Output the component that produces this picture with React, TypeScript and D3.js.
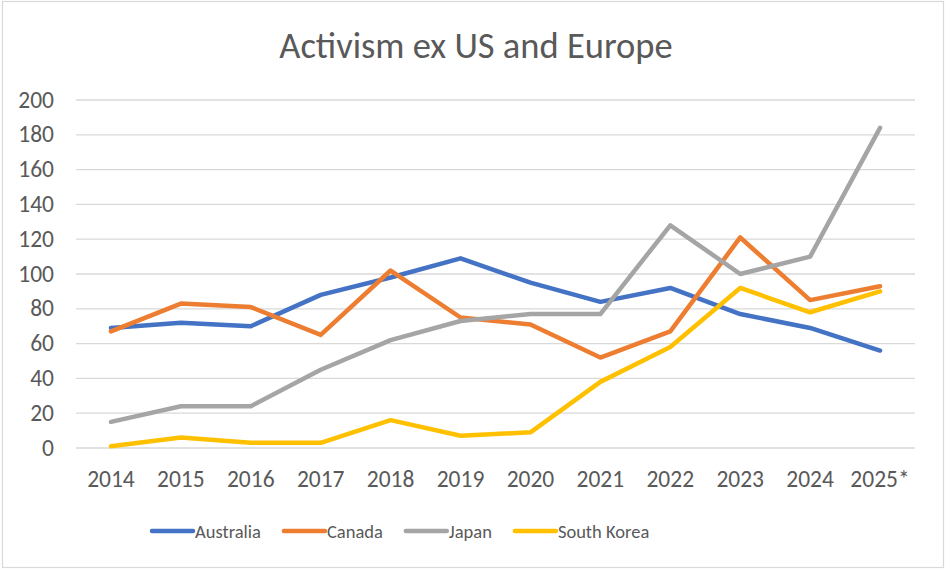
import * as d3 from 'd3'

const years = ['2014', '2015', '2016', '2017', '2018', '2019', '2020', '2021', '2022', '2023', '2024', '2025*']
const australia = [69, 72, 70, 88, 98, 109, 95, 84, 92, 77, 69, 56]
const canada = [67, 83, 81, 65, 102, 75, 71, 52, 67, 121, 85, 93]
const japan = [15, 24, 24, 45, 62, 73, 77, 77, 128, 100, 110, 184]
const southKorea = [1, 6, 3, 3, 16, 7, 9, 38, 58, 92, 78, 90]
const yTicks = [0, 20, 40, 60, 80, 100, 120, 140, 160, 180, 200]

const series = [
  { name: 'Australia', values: australia, color: '#4472C4' },
  { name: 'Canada', values: canada, color: '#ED7D31' },
  { name: 'Japan', values: japan, color: '#A5A5A5' },
  { name: 'South Korea', values: southKorea, color: '#FFC000' },
]

const font = "Calibri, Carlito, 'Open Sans', sans-serif"
const textColor = '#595959'

function measure(text: string, size: number) {
  const ctx = document.createElement('canvas').getContext('2d')
  if (!ctx) return text.length * size * 0.5
  ctx.font = `${size}px ${font}`
  return ctx.measureText(text).width
}

export default function App() {
  const width = 947
  const height = 572
  const margin = { top: 100, right: 32, bottom: 124, left: 76 }

  const x = d3.scaleBand<string>().domain(years).range([margin.left, width - margin.right])
  const y = d3.scaleLinear().domain([0, 200]).range([height - margin.bottom, margin.top])
  const cx = (i: number) => (x(years[i]) ?? 0) + x.bandwidth() / 2

  const line = d3
    .line<number>()
    .x((_, i) => cx(i))
    .y((d) => y(d))

  // legend layout, laid out left to right like Excel does it
  const legendSize = 18.5
  const swatch = 43
  const gap = 21
  let cursor = 150
  const legend = series.map((s) => {
    const pos = cursor
    cursor += swatch + 2 + measure(s.name, legendSize) + gap
    return { ...s, x: pos }
  })

  return (
    <div style={{ position: 'absolute', left: 0, top: 0 }}>
      <svg width={width} height={height} viewBox={`0 0 ${width} ${height}`} style={{ display: 'block' }}>
        <rect x={0} y={0} width={width} height={height} fill="white" />
        <rect x={2.5} y={1.5} width={941} height={566} fill="none" stroke="#D9D9D9" strokeWidth="1.2" />

        <text x={476} y={58} textAnchor="middle" fontSize="36.5" fontFamily={font} fill={textColor}>
          Activism ex US and Europe
        </text>

        {yTicks.map((tick) => (
          <g key={tick} transform={`translate(0,${y(tick)})`}>
            <line x1={margin.left} x2={width - margin.right} y1={0} y2={0} stroke="#D9D9D9" strokeWidth="1.3" />
            <text x={54} y={7.5} textAnchor="end" fontSize="23.5" fontFamily={font} fill={textColor}>
              {tick}
            </text>
          </g>
        ))}

        {years.map((yr, i) => (
          <text
            key={yr}
            x={cx(i)}
            y={height - margin.bottom + 39}
            textAnchor="middle"
            fontSize="23.5"
            fontFamily={font}
            fill={textColor}
          >
            {yr}
          </text>
        ))}

        {series.map((s) => (
          <path
            key={s.name}
            d={line(s.values) ?? ''}
            fill="none"
            stroke={s.color}
            strokeWidth="4.5"
            strokeLinejoin="round"
            strokeLinecap="round"
          />
        ))}

        {legend.map((it) => (
          <g key={it.name} transform={`translate(${it.x},531)`}>
            <line x1={2} x2={swatch} y1={0} y2={0} stroke={it.color} strokeWidth="4.5" strokeLinecap="round" />
            <text x={swatch + 2} y={7} fontSize={legendSize} fontFamily={font} fill={textColor}>
              {it.name}
            </text>
          </g>
        ))}
      </svg>
    </div>
  )
}
